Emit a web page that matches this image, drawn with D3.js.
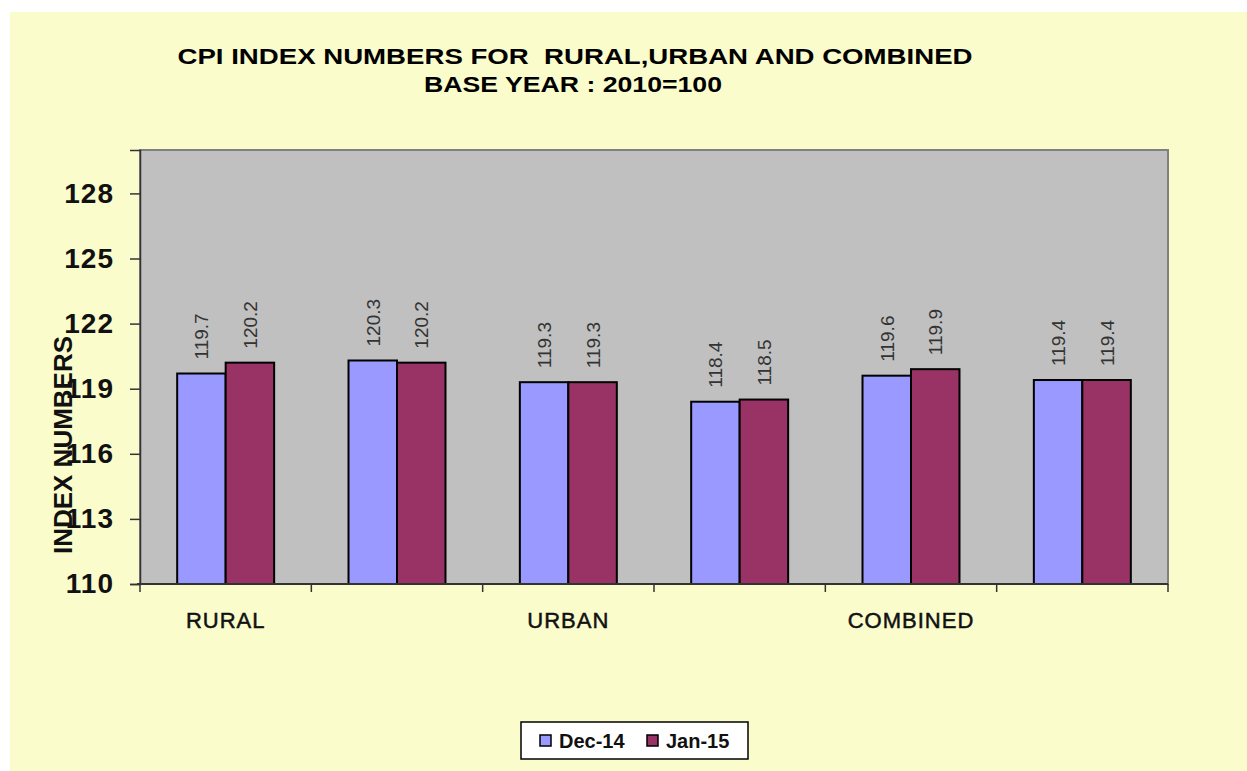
<!DOCTYPE html>
<html>
<head>
	<title>CPI Index Numbers</title>
	<script src="https://d3js.org/d3.v7.min.js"></script>
	<style type="text/css">
		*
		{
			margin:0;
			padding:0;
		}
		body
		{
			background:#fff;
			font-family: "Liberation Sans", Arial, sans-serif;
		}
		#chart svg
		{
			display:block;
		}
	</style>
</head>
<body>
	<div id="chart"></div>
	<script>
		// categories (labels shown only on every other slot, as in the original)
		const categories = ["RURAL", "RURAL-2", "URBAN", "URBAN-2", "COMBINED", "COMBINED-2"];
		const categoryLabels = ["RURAL", "", "URBAN", "", "COMBINED", ""];
		const seriesNames = ["Dec-14", "Jan-15"];
		const dec14 = [119.7, 120.3, 119.3, 118.4, 119.6, 119.4];
		const jan15 = [120.2, 120.2, 119.3, 118.5, 119.9, 119.4];
		const yTicks = [110, 113, 116, 119, 122, 125, 128];
		const colors = ["#9999ff", "#993366"];

		const width = 1247;
		const height = 771;
		const plot = {left:140, right:1168, top:150, bottom:584};

		const svg = d3.select("#chart").append("svg")
			.attr("width", width)
			.attr("height", height);

		// page background
		svg.append("rect")
			.attr("x", 10).attr("y", 12)
			.attr("width", width-10).attr("height", height-12)
			.attr("fill", "#fafccc");

		// title
		svg.append("text")
			.attr("x", 575).attr("y", 64)
			.attr("text-anchor", "middle")
			.attr("font-size", 22).attr("font-weight", "bold")
			.attr("textLength", 795).attr("lengthAdjust", "spacingAndGlyphs")
			.attr("xml:space", "preserve")
			.text("CPI INDEX NUMBERS FOR  RURAL,URBAN AND COMBINED");
		svg.append("text")
			.attr("x", 573).attr("y", 92)
			.attr("text-anchor", "middle")
			.attr("font-size", 22).attr("font-weight", "bold")
			.attr("textLength", 298).attr("lengthAdjust", "spacingAndGlyphs")
			.text("BASE YEAR : 2010=100");

		const xScale = d3.scaleBand()
			.domain(categories)
			.range([plot.left, plot.right])
			.paddingInner(0.434)
			.paddingOuter(0.217);

		const xSub = d3.scaleBand()
			.domain(seriesNames)
			.range([0, xScale.bandwidth()]);

		const yScale = d3.scaleLinear()
			.domain([110, 130])
			.range([plot.bottom, plot.top]);

		// plot area
		svg.append("rect")
			.attr("x", plot.left).attr("y", plot.top)
			.attr("width", plot.right-plot.left).attr("height", plot.bottom-plot.top)
			.attr("fill", "#c0c0c0")
			.attr("stroke", "#808080")
			.attr("stroke-width", 2);

		// y axis
		const yAxis = d3.axisLeft(yScale).tickValues(yTicks).tickSize(10).tickPadding(16);
		const gy = svg.append("g")
			.attr("transform", "translate(" + plot.left + ",0)")
			.call(yAxis);
		gy.select(".domain").attr("stroke", "#333").attr("stroke-width", 1.5);
		gy.selectAll(".tick line").attr("stroke", "#333").attr("stroke-width", 1.5);
		gy.selectAll(".tick text")
			.attr("font-size", 28).attr("font-weight", "bold")
			.attr("letter-spacing", 1)
			.attr("font-family", "Liberation Sans, Arial, sans-serif")
			.attr("fill", "#111");

		// bars
		const groups = svg.selectAll(".group")
			.data(categories)
			.enter()
			.append("g")
			.attr("class", "group")
			.attr("transform", d => "translate(" + xScale(d) + ",0)");

		const seriesData = [dec14, jan15];
		groups.selectAll("rect")
			.data((d, i) => seriesNames.map((s, j) => ({s:s, v:seriesData[j][i], j:j})))
			.enter()
			.append("rect")
			.attr("x", d => xSub(d.s))
			.attr("y", d => yScale(d.v))
			.attr("width", xSub.bandwidth())
			.attr("height", d => yScale(110) - yScale(d.v))
			.attr("fill", d => colors[d.j])
			.attr("stroke", "#000")
			.attr("stroke-width", 2);

		groups.selectAll(".val")
			.data((d, i) => seriesNames.map((s, j) => ({s:s, v:seriesData[j][i]})))
			.enter()
			.append("text")
			.attr("class", "val")
			.attr("transform", d => "translate(" + (xSub(d.s) + xSub.bandwidth()/2 + 7) + "," + (yScale(d.v) - 14) + ") rotate(-90)")
			.attr("font-size", 19)
			.attr("fill", "#333")
			.text(d => d.v.toFixed(1));

		// x axis
		const xAxisLine = svg.append("g");
		xAxisLine.append("line")
			.attr("x1", plot.left-3).attr("x2", plot.right)
			.attr("y1", plot.bottom).attr("y2", plot.bottom)
			.attr("stroke", "#333").attr("stroke-width", 2);
		const step = xScale.step();
		const edges = d3.range(categories.length + 1).map(i => xScale(categories[0]) - xScale.paddingOuter()*step + i*step);
		xAxisLine.selectAll(".xt")
			.data(edges)
			.enter()
			.append("line")
			.attr("x1", d => d).attr("x2", d => d)
			.attr("y1", plot.bottom).attr("y2", plot.bottom + 8)
			.attr("stroke", "#333").attr("stroke-width", 1.5);

		svg.selectAll(".xlabel")
			.data(categories)
			.enter()
			.append("text")
			.attr("class", "xlabel")
			.attr("x", d => xScale(d) + xScale.bandwidth()/2)
			.attr("y", 628)
			.attr("text-anchor", "middle")
			.attr("font-size", 22)
			.attr("letter-spacing", 1)
			.attr("fill", "#111")
			.attr("stroke", "#111").attr("stroke-width", 0.5)
			.text((d, i) => categoryLabels[i]);

		// y axis title
		svg.append("text")
			.attr("transform", "translate(72,445) rotate(-90)")
			.attr("text-anchor", "middle")
			.attr("font-size", 26).attr("font-weight", "bold")
			.attr("fill", "#111")
			.text("INDEX NUMBERS");

		// legend
		const legend = svg.append("g").attr("transform", "translate(521,722)");
		legend.append("rect")
			.attr("width", 227).attr("height", 37)
			.attr("fill", "#fff").attr("stroke", "#000").attr("stroke-width", 1.5);
		const legendX = [19, 126];
		seriesNames.forEach((s, i) => {
			legend.append("rect")
				.attr("x", legendX[i]).attr("y", 13)
				.attr("width", 11).attr("height", 11)
				.attr("fill", colors[i]).attr("stroke", "#000").attr("stroke-width", 1.5);
			legend.append("text")
				.attr("x", legendX[i] + 19).attr("y", 26)
				.attr("font-size", 20).attr("font-weight", "bold")
				.attr("fill", "#111")
				.text(s);
		});
	</script>
</body>
</html>
